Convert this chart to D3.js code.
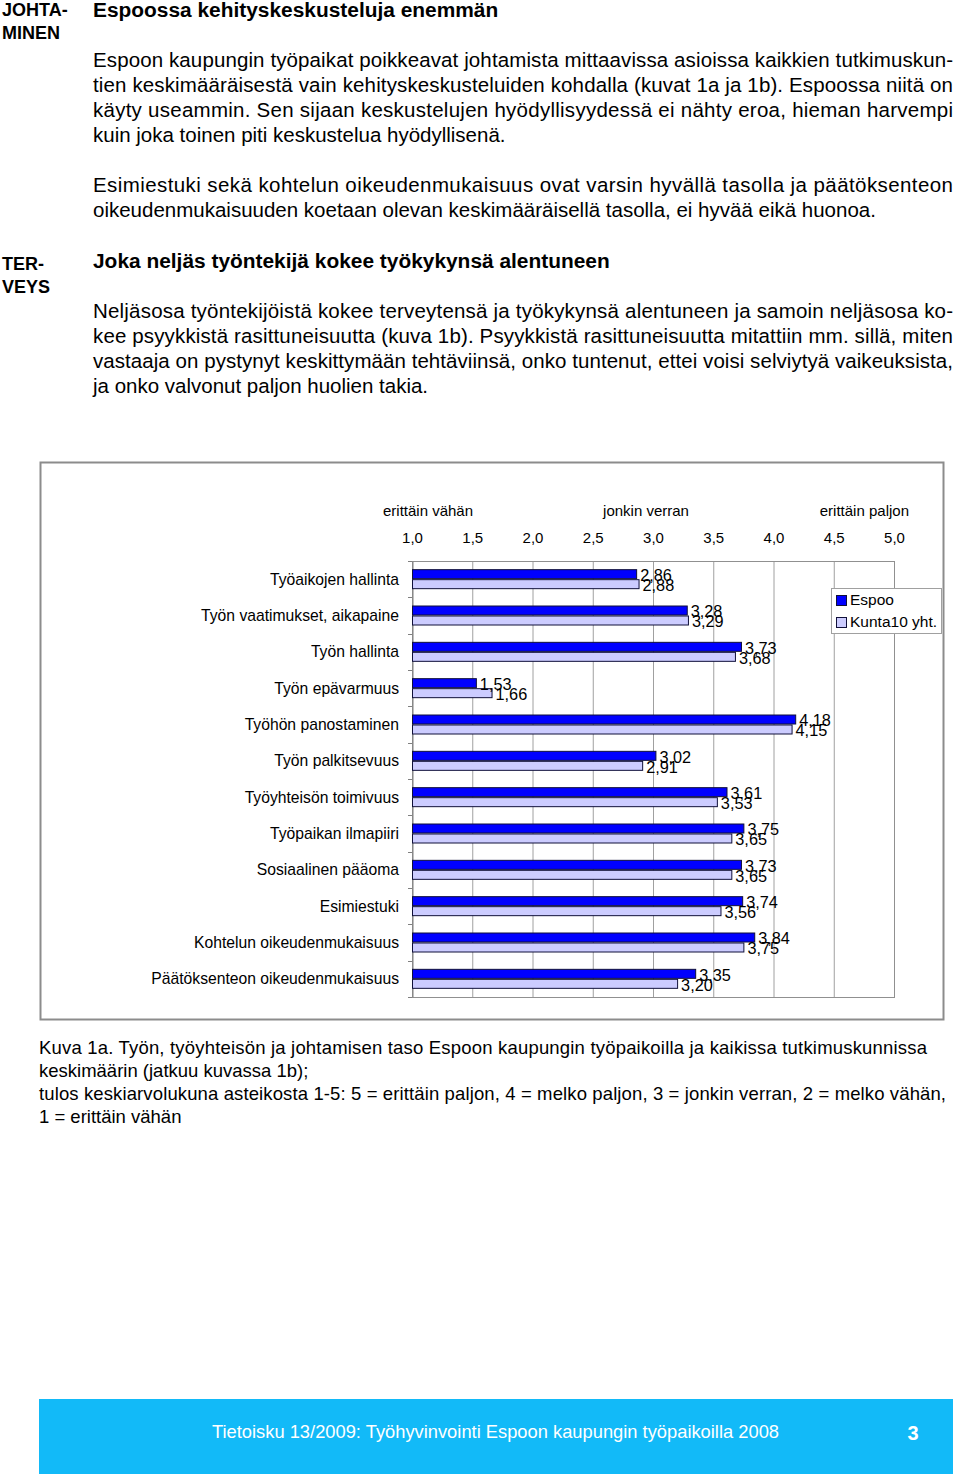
<!DOCTYPE html>
<html><head><meta charset="utf-8">
<script src="https://cdn.jsdelivr.net/npm/d3@7"></script>
<style>
body{margin:0;background:#fff;}
svg{display:block;font-family:"Liberation Sans",Arial,sans-serif;}
</style></head>
<body>
<svg id="page" width="960" height="1478"></svg>
<script>
const categories = ["Työaikojen hallinta","Työn vaatimukset, aikapaine","Työn hallinta","Työn epävarmuus","Työhön panostaminen","Työn palkitsevuus","Työyhteisön toimivuus","Työpaikan ilmapiiri","Sosiaalinen pääoma","Esimiestuki","Kohtelun oikeudenmukaisuus","Päätöksenteon oikeudenmukaisuus"];
const espoo = [2.86,3.28,3.73,1.53,4.18,3.02,3.61,3.75,3.73,3.74,3.84,3.35];
const kunta = [2.88,3.29,3.68,1.66,4.15,2.91,3.53,3.65,3.65,3.56,3.75,3.20];
const seriesNames = ["Espoo","Kunta10 yht."];
const tickValues = [1.0,1.5,2.0,2.5,3.0,3.5,4.0,4.5,5.0];
const scaleLabels = ["erittäin vähän","jonkin verran","erittäin paljon"];

const sideHeads1 = ["JOHTA-","MINEN"];
const heading1 = "Espoossa kehityskeskusteluja enemmän";
const para1 = ["Espoon kaupungin työpaikat poikkeavat johtamista mittaavissa asioissa kaikkien tutkimuskun-",
"tien keskimääräisestä vain kehityskeskusteluiden kohdalla (kuvat 1a ja 1b). Espoossa niitä on",
"käyty useammin. Sen sijaan keskustelujen hyödyllisyydessä ei nähty eroa, hieman harvempi",
"kuin joka toinen piti keskustelua hyödyllisenä."];
const para2 = ["Esimiestuki sekä kohtelun oikeudenmukaisuus ovat varsin hyvällä tasolla ja päätöksenteon",
"oikeudenmukaisuuden koetaan olevan keskimääräisellä tasolla, ei hyvää eikä huonoa."];
const sideHeads2 = ["TER-","VEYS"];
const heading2 = "Joka neljäs työntekijä kokee työkykynsä alentuneen";
const para3 = ["Neljäsosa työntekijöistä kokee terveytensä ja työkykynsä alentuneen ja samoin neljäsosa ko-",
"kee psyykkistä rasittuneisuutta (kuva 1b). Psyykkistä rasittuneisuutta mitattiin mm. sillä, miten",
"vastaaja on pystynyt keskittymään tehtäviinsä, onko tuntenut, ettei voisi selviytyä vaikeuksista,",
"ja onko valvonut paljon huolien takia."];
const caption = ["Kuva 1a. Työn, työyhteisön ja johtamisen taso Espoon kaupungin työpaikoilla ja kaikissa tutkimuskunnissa",
"keskimäärin (jatkuu kuvassa 1b);",
"tulos keskiarvolukuna asteikosta 1-5: 5 = erittäin paljon, 4 = melko paljon, 3 = jonkin verran, 2 = melko vähän,",
"1 = erittäin vähän"];
const footerText = "Tietoisku 13/2009: Työhyvinvointi Espoon kaupungin työpaikoilla 2008";
const pageNo = "3";

const svg = d3.select("#page");

// ---------- text block ----------
function lines(arr, x, y0, lh, size, weight, justifyW) {
  arr.forEach((t, i) => {
    const el = svg.append("text").attr("x", x).attr("y", y0 + i * lh).attr("dy", "0.35em")
      .attr("font-size", size).attr("font-weight", weight || "normal").attr("fill", "#000").text(t);
    if (justifyW && i < arr.length - 1) {
      el.attr("textLength", justifyW).attr("lengthAdjust", "spacing");
    }
  });
}
lines(sideHeads1, 2, 10, 23, 18, "bold");
lines([heading1], 93, 10, 25, 20.9, "bold");
lines(para1, 93, 60, 25, 20.5, "normal", 860);
lines(para2, 93, 185, 25, 20.5, "normal", 860);
lines(sideHeads2, 2, 264, 23, 18, "bold");
lines([heading2], 93, 261, 25, 20.9, "bold");
lines(para3, 93, 311, 25, 20.5, "normal", 860);

// ---------- chart ----------
svg.append("rect").attr("x", 40.5).attr("y", 462.5).attr("width", 903).attr("height", 557)
  .attr("fill", "#fff").attr("stroke", "#8c8c8c").attr("stroke-width", 2);

const x = d3.scaleLinear().domain([1, 5]).range([412, 894]);
const y = d3.scaleBand().domain(categories).range([561, 997]);
const barH = 10;

const g = svg.append("g");
// gridlines
g.selectAll("line.grid").data(tickValues).join("line")
  .attr("x1", d => x(d) + 0.5).attr("x2", d => x(d) + 0.5)
  .attr("y1", 561).attr("y2", 997).attr("stroke", "#a0a0a0").attr("stroke-width", 1);
// plot border
g.append("rect").attr("x", x(1) + 0.5).attr("y", 561.5).attr("width", x(5) - x(1)).attr("height", 436)
  .attr("fill", "none").attr("stroke", "#909090").attr("stroke-width", 1);

// left axis with ticks
const yAxis = d3.axisLeft(y).tickSize(0).tickFormat("");
const axG = g.append("g").attr("transform", `translate(${x(1) + 0.5},0)`).call(yAxis);
axG.select(".domain").attr("stroke", "#808080");
const bounds = d3.range(categories.length + 1).map(i => 561 + i * y.step());
g.selectAll("line.ytick").data(bounds).join("line")
  .attr("x1", x(1) - 4).attr("x2", x(1)).attr("y1", d => Math.round(d) + 0.5).attr("y2", d => Math.round(d) + 0.5)
  .attr("stroke", "#808080");

// top axis labels
const xAxis = d3.axisTop(x).tickValues(tickValues).tickSize(0)
  .tickFormat(d => d3.format(".1f")(d).replace(".", ","));
const xg = g.append("g").attr("transform", "translate(0,546)").call(xAxis);
xg.select(".domain").remove();
xg.selectAll("text").attr("font-size", 15).attr("font-family", "Liberation Sans, Arial, sans-serif")
  .attr("fill", "#000").attr("dy", "0.35em").attr("y", -8);

// scale labels
const slLeft = x(1) - 29, slRight = x(5) + 15;
svg.selectAll("text.sl").data(scaleLabels).join("text")
  .attr("x", (d, i) => i === 0 ? slLeft : i === 1 ? (slLeft + slRight) / 2 : slRight)
  .attr("text-anchor", (d, i) => ["start", "middle", "end"][i])
  .attr("y", 511).attr("dy", "0.35em").attr("font-size", 15).attr("fill", "#000").text(d => d);

// category labels
svg.selectAll("text.cat").data(categories).join("text")
  .attr("x", 399).attr("y", d => y(d) + y.bandwidth() / 2).attr("dy", "0.35em")
  .attr("text-anchor", "end").attr("font-size", 15.7).attr("fill", "#000").text(d => d);

const series = [
  { name: seriesNames[0], values: espoo, fill: "#0000ff", off: -barH },
  { name: seriesNames[1], values: kunta, fill: "#ccccff", off: 0 }
];
series.forEach(s => {
  g.selectAll(null).data(s.values).join("rect")
    .attr("x", x(1) + 0.5)
    .attr("y", (d, i) => y(categories[i]) + y.bandwidth() / 2 + s.off + 0.5)
    .attr("width", d => x(d) - x(1))
    .attr("height", barH - 1)
    .attr("fill", s.fill).attr("stroke", "#10103a").attr("stroke-width", 1);
});
series.forEach(s => {
  svg.selectAll(null).data(s.values).join("text")
    .attr("x", d => x(d) + 4)
    .attr("y", (d, i) => y(categories[i]) + y.bandwidth() / 2 + s.off + barH / 2 + 1)
    .attr("dy", "0.35em").attr("font-size", 16.3).attr("fill", "#000")
    .text(d => d3.format(".2f")(d).replace(".", ","));
});

// legend
const lg = svg.append("g");
lg.append("rect").attr("x", 831.5).attr("y", 588.5).attr("width", 110).attr("height", 45)
  .attr("fill", "#fff").attr("stroke", "#a0a0a0");
series.forEach((s, i) => {
  lg.append("rect").attr("x", 836.5).attr("y", 595.5 + i * 22).attr("width", 10).attr("height", 10)
    .attr("fill", s.fill).attr("stroke", "#10103a");
  lg.append("text").attr("x", 850).attr("y", 600 + i * 22).attr("dy", "0.35em")
    .attr("font-size", 15.5).attr("fill", "#000").text(s.name);
});

// caption
caption.forEach((t, i) => {
  const el = svg.append("text").attr("x", 39).attr("y", 1048 + i * 22.7).attr("dy", "0.35em")
    .attr("font-size", 18.5).attr("fill", "#000").text(t);
  if (i === 0) el.attr("textLength", 888).attr("lengthAdjust", "spacing");
  if (i === 2) el.attr("textLength", 907).attr("lengthAdjust", "spacing");
});

// footer
svg.append("rect").attr("x", 39).attr("y", 1399).attr("width", 914).attr("height", 75).attr("fill", "#12baf8");
svg.append("text").attr("x", 212).attr("y", 1431).attr("dy", "0.35em")
  .attr("font-family", "'Liberation Sans Narrow','Arial Narrow','Liberation Sans',sans-serif")
  .attr("font-size", 19).attr("fill", "#fff").attr("textLength", 567).attr("lengthAdjust", "spacingAndGlyphs")
  .text(footerText);
svg.append("text").attr("x", 913).attr("y", 1433).attr("dy", "0.35em").attr("text-anchor", "middle")
  .attr("font-size", 20).attr("font-weight", "bold").attr("fill", "#fff").text(pageNo);
</script>
</body></html>
